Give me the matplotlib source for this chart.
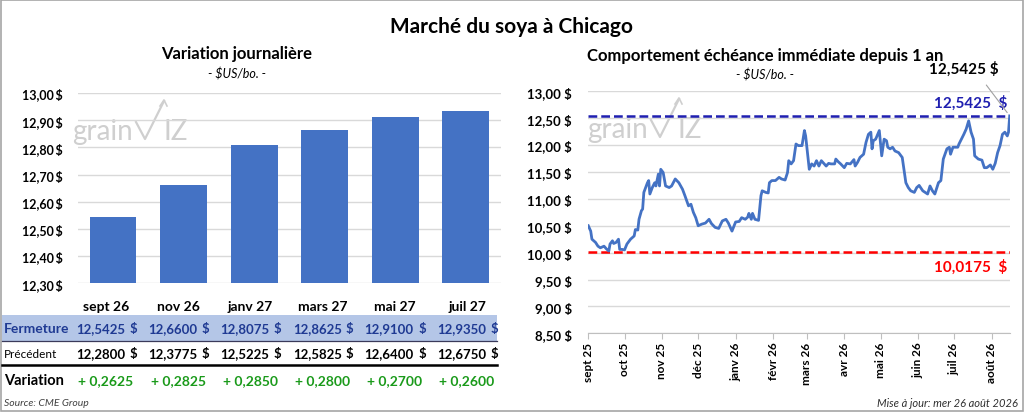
"""Marché du soya à Chicago : variation journalière + échéance immédiate sur 1 an."""

import numpy as np
import pandas as pd
import matplotlib
matplotlib.use('Agg')
import matplotlib.pyplot as plt
from matplotlib.patches import Rectangle

plt.rcParams['font.family'] = ['Lato', 'DejaVu Sans']

# --- données : échéances ---
echeances = ['sept 26', 'nov 26', 'janv 27', 'mars 27', 'mai 27', 'juil 27']
fermeture = [12.5425, 12.6600, 12.8075, 12.8625, 12.9100, 12.9350]
precedent = [12.2800, 12.3775, 12.5225, 12.5825, 12.6400, 12.6750]
variation = [0.2625, 0.2825, 0.2850, 0.2800, 0.2700, 0.2600]

# --- données : échéance immédiate (jours depuis le 1er sept 2025, prix) ---
debut = pd.Timestamp('2025-09-01')
jours = [0, 2, 3, 6, 8, 10, 13, 15, 17, 18, 20, 21, 23, 25, 26, 28, 30, 32, 35, 38,
         39, 41, 42, 44, 45, 46, 47, 49, 50, 51, 53, 55, 56, 58, 59, 60, 62, 64, 67, 69,
         72, 75, 78, 80, 83, 85, 87, 89, 91, 94, 97, 100, 102, 105, 108, 111, 114, 116, 119, 122,
         125, 127, 130, 132, 133, 135, 136, 138, 141, 143, 144, 147, 149, 150, 152, 155, 158, 160, 163, 165,
         166, 168, 170, 172, 174, 177, 179, 180, 183, 185, 187, 189, 191, 193, 195, 197, 199, 201, 204, 205,
         207, 209, 212, 214, 217, 220, 221, 223, 225, 228, 230, 232, 234, 235, 236, 238, 241, 243, 245, 247,
         248, 250, 252, 254, 257, 260, 263, 265, 267, 270, 272, 274, 277, 279, 281, 283, 285, 287, 290, 292,
         294, 297, 299, 300, 302, 306, 307, 309, 311, 313, 315, 317, 319, 320, 323, 326, 328, 330, 333, 335,
         337, 339, 341, 343, 345, 347, 348, 349]
prix = [10.50, 10.40, 10.25, 10.19, 10.12, 10.09, 10.12, 10.07, 10.03, 10.16, 10.22, 10.17, 10.19, 10.25, 10.06, 10.06, 10.05, 10.16, 10.25, 10.31,
        10.43, 10.42, 10.62, 10.78, 10.81, 11.12, 11.18, 11.30, 11.34, 11.09, 11.21, 11.30, 11.24, 11.46, 11.24, 11.55, 11.49, 11.24, 11.21, 11.24,
        11.37, 11.30, 11.18, 11.06, 10.87, 10.90, 10.75, 10.65, 10.50, 10.53, 10.55, 10.62, 10.54, 10.47, 10.45, 10.59, 10.62, 10.55, 10.40, 10.57,
        10.58, 10.65, 10.62, 10.66, 10.73, 10.62, 10.73, 10.62, 10.60, 11.06, 11.15, 11.12, 11.11, 11.30, 11.34, 11.34, 11.40, 11.37, 11.35, 11.49,
        11.71, 11.65, 11.71, 12.02, 11.99, 11.99, 12.27, 12.17, 11.55, 11.65, 11.61, 11.71, 11.61, 11.71, 11.66, 11.61, 11.66, 11.65, 11.65, 11.74,
        11.69, 11.65, 11.58, 11.66, 11.65, 11.73, 11.61, 11.68, 11.77, 11.83, 12.05, 12.20, 12.24, 11.93, 12.08, 12.11, 12.27, 11.80, 12.11, 12.08,
        11.96, 11.93, 11.96, 11.89, 11.86, 11.77, 11.30, 11.21, 11.15, 11.12, 11.21, 11.25, 11.15, 11.12, 11.09, 11.24, 11.15, 11.09, 11.30, 11.34,
        11.74, 11.93, 11.96, 11.83, 11.96, 11.96, 12.02, 12.11, 12.20, 12.30, 12.45, 12.24, 12.11, 11.80, 11.74, 11.72, 11.58, 11.58, 11.63, 11.55,
        11.66, 11.86, 11.99, 12.20, 12.24, 12.17, 12.24, 12.5425]
mois = ['sept 25', 'oct 25', 'nov 25', 'déc 25', 'janv 26', 'févr 26',
        'mars 26', 'avr 26', 'mai 26', 'juin 26', 'juil 26', 'août 26']
debut_mois = pd.date_range('2025-09-01', periods=12, freq='MS')
haut_1an = 12.5425
bas_1an = 10.0175

dates = debut + pd.to_timedelta(jours, unit='D')

BLEU = '#4472c4'
GRILLE = '#d9d9d9'
W, H = 1024, 414


def fmt_dollar(v, dec=2):
    return f'{v:.{dec}f}'.replace('.', ',')


def rect_ax(x0, y0, x1, y1):
    """pixels (haut-gauche) -> coordonnées figure"""
    return [x0 / W, 1 - y1 / H, (x1 - x0) / W, (y1 - y0) / H]


fig = plt.figure(figsize=(W / 100, H / 100), dpi=100)

# calque de fond en pixels pour textes, tableau, filigranes
ov = fig.add_axes([0, 0, 1, 1], zorder=0)
ov.set_xlim(0, W)
ov.set_ylim(H, 0)
ov.axis('off')
ov.add_patch(Rectangle((0.5, 0.5), W - 2, H - 2, fill=False, ec='#a6a6a6', lw=1.2))

ov.text(512, 27, 'Marché du soya à Chicago', ha='center', va='center',
        fontsize=15, fontweight='bold')


def filigrane(x, y):
    col = '#cfcfcf'
    ov.text(x, y, 'grain', fontsize=20, color=col, ha='left', va='baseline')
    ov.plot([x + 64, x + 73, x + 92], [y - 17, y, y - 38], color=col, lw=1.6)
    ov.plot([x + 88, x + 92, x + 95], [y - 33, y - 39, y - 33], color=col, lw=1.2)
    ov.text(x + 91, y, 'IZ', fontsize=20, color=col, ha='left', va='baseline')


filigrane(72, 140)
filigrane(587, 138)

# --- graphique de gauche : barres ---
ov.text(237, 54, 'Variation journalière', ha='center', va='center',
        fontsize=12, fontweight='bold')
ov.text(237, 74, '- $US/bo. -', ha='center', va='center', fontsize=9, style='italic')

ax1 = fig.add_axes(rect_ax(77.7, 94, 501, 284.3), zorder=1)
ax1.set_facecolor('none')
x = np.arange(len(echeances))
ax1.bar(x, fermeture, width=0.665, color=BLEU, zorder=2)
ax1.set_xlim(-0.5, len(echeances) - 0.5)
ax1.set_ylim(12.30, 13.00)
yt = np.round(np.arange(12.30, 13.001, 0.10), 2)
ax1.set_yticks(yt)
ax1.set_yticklabels([fmt_dollar(v) + '\u2009$' for v in yt], fontsize=9, fontweight='bold')
ax1.set_xticks([])
ax1.grid(axis='y', color=GRILLE, lw=1)
ax1.set_axisbelow(True)
for s in ax1.spines.values():
    s.set_visible(False)
ax1.tick_params(axis='y', length=0, pad=11)

# --- tableau ---
ov.add_patch(Rectangle((2, 316), 495, 25.5, color='#b4c6e7', lw=0))
ov.plot([2, 497], [341.5, 341.5], color='#3a3a5a', lw=0.9)
ov.plot([2, 497], [366, 366], color='black', lw=1.8)
ov.text(4, 329, 'Fermeture', fontsize=10, fontweight='bold', color='#1f3a93', va='center')
ov.text(4, 354.5, 'Précédent', fontsize=8.5, color='black', va='center')
ov.text(4, 381, 'Variation', fontsize=10.5, fontweight='bold', color='black', va='center')
for i, nom in enumerate(echeances):
    cx = 106 + 72.2 * i
    ov.text(cx, 307, nom, ha='center', va='center', fontsize=10, fontweight='bold')
    ov.text(125 + 72.2 * i, 329, fmt_dollar(fermeture[i], 4), ha='right', va='center',
            fontsize=9.5, fontweight='bold', color='#1f3a93')
    ov.text(137 + 72.2 * i, 329, '$', ha='right', va='center',
            fontsize=9.5, fontweight='bold', color='#1f3a93')
    ov.text(125 + 72.2 * i, 354.5, fmt_dollar(precedent[i], 4), ha='right', va='center',
            fontsize=9.5, fontweight='bold')
    ov.text(137 + 72.2 * i, 354.5, '$', ha='right', va='center', fontsize=9.5, fontweight='bold')
    ov.text(cx, 381, '+ ' + fmt_dollar(variation[i], 4), ha='center', va='center',
            fontsize=10, fontweight='bold', color='#1a9a1a')
ov.text(4, 404, 'Source: CME Group', fontsize=7.5, style='italic', va='center', color='#404040')

# --- graphique de droite : ligne ---
ov.text(765, 56, 'Comportement échéance immédiate depuis 1 an', ha='center', va='center',
        fontsize=12, fontweight='bold')
ov.text(765, 75, '- $US/bo. -', ha='center', va='center', fontsize=9, style='italic')

ax2 = fig.add_axes(rect_ax(588.3, 92.3, 1009.7, 334.3), zorder=1)
ax2.set_facecolor('none')
ax2.plot(dates, prix, color=BLEU, lw=2.0, zorder=3)
ax2.axhline(haut_1an, color='#1f1fb0', lw=1.8, dashes=(3.5, 1.6), zorder=2)
ax2.axhline(bas_1an, color='#ff0000', lw=1.8, dashes=(3.5, 1.6), zorder=2)
ax2.set_xlim(debut, debut + pd.Timedelta(days=349))
ax2.set_ylim(8.5, 13.0)
yt2 = np.arange(8.5, 13.01, 0.5)
ax2.set_yticks(yt2)
ax2.set_yticklabels([fmt_dollar(v) + ' $' for v in yt2], fontsize=9.5, fontweight='bold')
ax2.set_xticks(debut_mois)
ax2.set_xticklabels(mois, rotation=90, fontsize=8.5, fontweight='bold')
ax2.grid(axis='y', color=GRILLE, lw=1)
ax2.set_axisbelow(True)
for s in ['top', 'right', 'left']:
    ax2.spines[s].set_visible(False)
ax2.spines['bottom'].set_color('#bfbfbf')
ax2.tick_params(axis='y', length=0, pad=12)
ax2.tick_params(axis='x', length=4, color='#bfbfbf', pad=2)

ax2.text(0.995, haut_1an + 0.12, fmt_dollar(haut_1an, 4) + '  $', transform=ax2.get_yaxis_transform(),
         ha='right', va='bottom', fontsize=11, fontweight='bold', color='#1f1fb0')
ax2.text(0.995, bas_1an - 0.12, fmt_dollar(bas_1an, 4) + '  $', transform=ax2.get_yaxis_transform(),
         ha='right', va='top', fontsize=11, fontweight='bold', color='#ff0000')
ax2.annotate(fmt_dollar(prix[-1], 4) + ' $', xy=(dates[-1], prix[-1]), xycoords='data',
             xytext=(999, 69), textcoords=ov.transData, ha='right', va='center',
             fontsize=11, fontweight='bold',
             arrowprops=dict(arrowstyle='-', color='#a0a0a0', lw=0.8, shrinkA=6, shrinkB=3,
                             relpos=(0.55, 1.0)))

ov.text(1018, 404, 'Mise à jour: mer 26 août 2026', ha='right', va='center',
        fontsize=8, style='italic', color='#303030')

fig.savefig('out.png', dpi=100)
